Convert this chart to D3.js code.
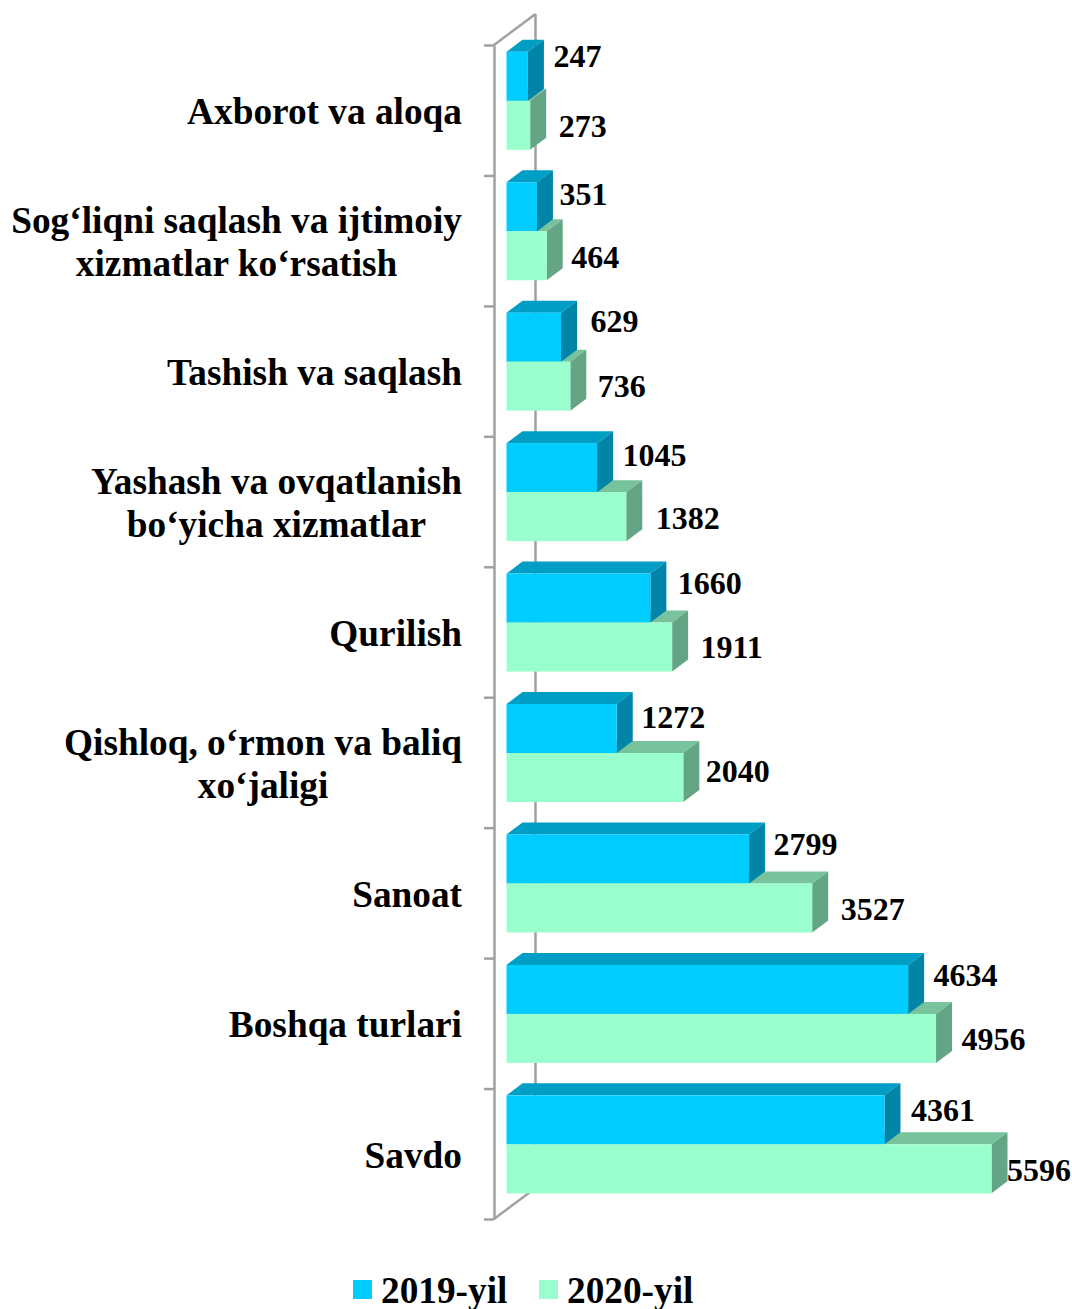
<!DOCTYPE html>
<html>
<head>
<meta charset="utf-8">
<script src="https://cdn.jsdelivr.net/npm/d3@7"></script>
<style>
  html, body { margin: 0; padding: 0; background: #fff; }
  svg { display: block; }
  text { font-family: "Liberation Serif", serif; font-weight: bold; fill: #000; }
</style>
</head>
<body>
<svg id="chart" width="1072" height="1309"></svg>
<script>
// top to bottom, same order as the picture
const categories = [
	["Axborot va aloqa"],
	["Sog‘liqni saqlash va ijtimoiy", "xizmatlar ko‘rsatish"],
	["Tashish va saqlash"],
	["Yashash va ovqatlanish", "bo‘yicha xizmatlar"],
	["Qurilish"],
	["Qishloq, o‘rmon va baliq", "xo‘jaligi"],
	["Sanoat"],
	["Boshqa turlari"],
	["Savdo"],
];
const values2019 = [247, 351, 629, 1045, 1660, 1272, 2799, 4634, 4361];
const values2020 = [273, 464, 736, 1382, 1911, 2040, 3527, 4956, 5596];
const seriesNames = ["2019-yil", "2020-yil"];

// hand placed data labels in the original, offset from the bar end [dx, dy]
const nudge2019 = [[10, -21], [7, -13], [14, -16], [10, -13], [12, -15], [9, -12], [9, -15], [10, -15], [11, -10]];
const nudge2020 = [[13, 0], [9, 1], [12, 0], [14, 1], [13, 0], [7, -7], [13, 1], [10, 0], [0, 1]];

const depthX = 16;
const depthY = 12;
const axisX = 494;
const axisTop = 45;
const axisBottom = 1219;
const plotLeft = 506.5;

const colors2019 = { front: "#00ccff", top: "#009ec5", side: "#0085a8" };
const colors2020 = { front: "#99ffcc", top: "#76c39c", side: "#64a585" };
const gridColor = "#a0a0a0";

const svg = d3.select("#chart");

const x = d3.scaleLinear().domain([0, 5596]).range([plotLeft, 991.5]);
const y = d3.scaleBand().domain(d3.range(categories.length)).range([axisTop, axisBottom]);
const barHeight = 49;
const barTop = (i) => y(i) + 6.8;

// axis with ticks on the band edges
const edges = d3.scalePoint().domain(d3.range(categories.length + 1)).range([axisTop, axisBottom]);
const axis = svg.append("g")
	.attr("transform", `translate(${axisX},0)`)
	.call(d3.axisLeft(edges).tickSize(10).tickSizeOuter(0).tickFormat(""));
axis.selectAll("path, line").attr("stroke", gridColor).attr("stroke-width", 2.5);

// back wall and floor edges
const backX = axisX + 41.5;
const wall = [
	[axisX, axisTop, backX, axisTop - 31],
	[backX, axisTop - 31, backX, axisBottom - 31],
	[axisX, axisBottom, backX, axisBottom - 31],
];
svg.append("g").selectAll("line").data(wall).join("line")
	.attr("x1", (d) => d[0]).attr("y1", (d) => d[1])
	.attr("x2", (d) => d[2]).attr("y2", (d) => d[3])
	.attr("stroke", gridColor).attr("stroke-width", 2.5);

const topPath = (v, yTop) => {
	const p = d3.path();
	p.moveTo(x(0), yTop);
	p.lineTo(x(0) + depthX, yTop - depthY);
	p.lineTo(x(v) + depthX, yTop - depthY);
	p.lineTo(x(v), yTop);
	p.closePath();
	return p.toString();
};
const sidePath = (v, yTop) => {
	const p = d3.path();
	p.moveTo(x(v), yTop);
	p.lineTo(x(v) + depthX, yTop - depthY);
	p.lineTo(x(v) + depthX, yTop - depthY + barHeight);
	p.lineTo(x(v), yTop + barHeight);
	p.closePath();
	return p.toString();
};

const bars = svg.append("g");
categories.forEach((c, i) => {
	const g = bars.append("g");
	const y19 = barTop(i);
	const y20 = y19 + barHeight;
	// green top goes under the blue bar, green side over the blue side
	g.append("path").attr("d", topPath(values2020[i], y20)).attr("fill", colors2020.top);
	g.append("path").attr("d", topPath(values2019[i], y19)).attr("fill", colors2019.top);
	g.append("path").attr("d", sidePath(values2019[i], y19)).attr("fill", colors2019.side);
	g.append("rect").attr("x", x(0)).attr("y", y19)
		.attr("width", x(values2019[i]) - x(0)).attr("height", barHeight).attr("fill", colors2019.front);
	g.append("path").attr("d", sidePath(values2020[i], y20)).attr("fill", colors2020.side);
	g.append("rect").attr("x", x(0)).attr("y", y20)
		.attr("width", x(values2020[i]) - x(0)).attr("height", barHeight).attr("fill", colors2020.front);
});

// data labels
const valueLabels = (vals, nudges, offset) => {
	svg.append("g").selectAll("text").data(vals).join("text")
		.attr("x", (d, i) => x(d) + 15.5 + nudges[i][0])
		.attr("y", (d, i) => barTop(i) + offset + barHeight / 2 + nudges[i][1])
		.attr("dy", "0.35em")
		.style("font-size", "32px")
		.text((d) => d);
};
valueLabels(values2019, nudge2019, 0);
valueLabels(values2020, nudge2020, barHeight);

// category labels, lines centred on each other, block right aligned at 462
const catFont = 37.3;
const lineGap = 43;
categories.forEach((lines, i) => {
	const g = svg.append("g");
	const cy = y(i) + y.bandwidth() / 2 + 1;
	const texts = lines.map((line, k) => g.append("text")
		.attr("y", cy + (k - (lines.length - 1) / 2) * lineGap)
		.attr("dy", "0.35em")
		.attr("text-anchor", "middle")
		.style("font-size", catFont + "px")
		.text(line));
	const w = d3.max(texts, (t) => t.node().getComputedTextLength());
	texts.forEach((t) => t.attr("x", 462 - w / 2));
});

// legend
const legendX = [353, 539];
const legend = svg.append("g").selectAll("g").data(seriesNames).join("g")
	.attr("transform", (d, i) => `translate(${legendX[i]},1280)`);
legend.append("rect").attr("width", 19).attr("height", 19)
	.attr("fill", (d, i) => (i === 0 ? colors2019.front : colors2020.front));
legend.append("text").attr("x", 28).attr("y", 10).attr("dy", "0.35em")
	.style("font-size", "37.3px")
	.text((d) => d);
</script>
</body>
</html>
